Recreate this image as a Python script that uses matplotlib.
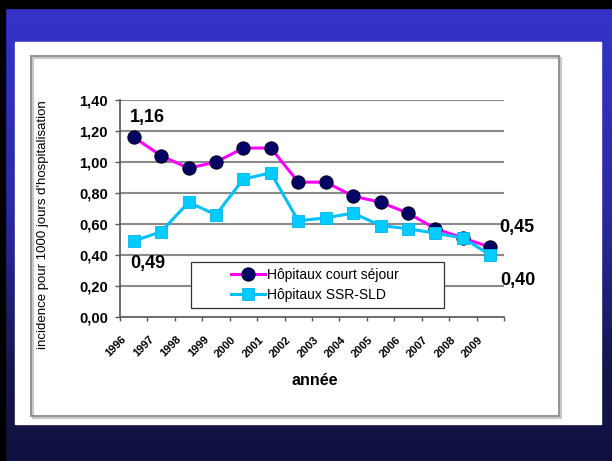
import matplotlib

matplotlib.use("Agg")

import matplotlib.pyplot as plt  # noqa: E402
import numpy as np  # noqa: E402
from matplotlib.colors import LinearSegmentedColormap  # noqa: E402
from matplotlib.patches import Rectangle  # noqa: E402
from matplotlib.transforms import ScaledTranslation  # noqa: E402

plt.rcParams["font.family"] = ["Liberation Sans", "DejaVu Sans"]

# data
years = [str(y) for y in range(1996, 2010)]
court_sejour = [1.16, 1.04, 0.96, 1.00, 1.09, 1.09, 0.87, 0.87, 0.78, 0.74, 0.67, 0.57, 0.51, 0.45]
ssr_sld = [0.49, 0.55, 0.74, 0.66, 0.89, 0.93, 0.62, 0.64, 0.67, 0.59, 0.57, 0.54, 0.51, 0.40]
series_names = ["Hôpitaux court séjour", "Hôpitaux SSR-SLD"]
y_ticks = [0.0, 0.2, 0.4, 0.6, 0.8, 1.0, 1.2, 1.4]

W, H = 612, 461


def fmt(v):
    return f"{v:.2f}".replace(".", ",")


fig = plt.figure(figsize=(W / 100, H / 100), dpi=100)

# slide background: blue gradient, black edge, white panel, chart box
bg = fig.add_axes((0, 0, 1, 1))
bg.set_xlim(0, W)
bg.set_ylim(H, 0)
bg.axis("off")
cmap = LinearSegmentedColormap.from_list(
    "slide", [(0.0, "#3434cc"), (0.45, "#2a2aa6"), (0.8, "#15154e"), (1.0, "#101040")])
bg.imshow(np.linspace(0, 1, 256).reshape(-1, 1), extent=(5, W, H, 8), cmap=cmap,
          aspect="auto", zorder=0)
bg.add_patch(Rectangle((0, 0), W, 8, color="black", zorder=1))
bg.add_patch(Rectangle((0, 0), 5, H, color="black", zorder=1))
bg.add_patch(Rectangle((15, 42), 586, 382, color="white", zorder=2))
bg.add_patch(Rectangle((33, 58), 528, 360, fill=False, ec="#c8c8c8", lw=1.5, zorder=3))
bg.add_patch(Rectangle((31, 56), 528, 360, fill=False, ec="#808080", lw=1.2, zorder=4))

ax = fig.add_axes((120 / W, 1 - 317 / H, 384 / W, 217 / H))
ax.patch.set_alpha(0)
x = np.arange(len(years))

ax.plot(x, court_sejour, "-o", color="#ff00ff", lw=2.2, mfc="#000066", mec="#000022",
        mew=0.8, ms=9.5, label=series_names[0], zorder=4)
ax.plot(x, ssr_sld, "-s", color="#00c0f8", lw=2.2, mfc="#00ccff", mec="#00b4ee",
        mew=0.6, ms=9, label=series_names[1], zorder=5)

ax.set_xlim(-0.5, len(years) - 0.5)
ax.set_ylim(0, 1.4)
ax.set_yticks(y_ticks)
ax.set_yticklabels([fmt(v) for v in y_ticks], fontsize=10.5, fontweight="bold")
ax.tick_params(axis="y", length=3.6, width=1, pad=5, color="#555555")
for v in y_ticks[1:]:
    ax.axhline(v, color="#8a8a8a", lw=1.5, zorder=1)

ax.set_xticks(np.arange(len(years) + 1) - 0.5)
ax.set_xticklabels([])
ax.tick_params(axis="x", which="major", length=3, width=1, color="#555555")
ax.set_xticks(x, minor=True)
ax.set_xticklabels(years, minor=True, fontsize=8, fontweight="bold", rotation=45,
                   ha="right", va="center", rotation_mode="anchor")
ax.tick_params(axis="x", which="minor", length=0, pad=15)
shift = ScaledTranslation(-0.09, 0, fig.dpi_scale_trans)
for lab in ax.get_xticklabels(minor=True):
    lab.set_transform(lab.get_transform() + shift)

for side in ("top", "right"):
    ax.spines[side].set_visible(False)
for side in ("left", "bottom"):
    ax.spines[side].set_color("#555555")
    ax.spines[side].set_linewidth(1.2)

ax.set_xlabel("année", fontsize=11.5, fontweight="bold")
ax.xaxis.set_label_coords(0.508, -0.26)
ax.set_ylabel("incidence pour 1000 jours d'hospitalisation", fontsize=9.5)
ax.yaxis.set_label_coords(-0.185, 0.424)

# value call-outs
for xi, yi, dx, dy in [(0, court_sejour[0], 10, 14), (0, ssr_sld[0], 10, -16.5),
                       (13, court_sejour[-1], 19, 14), (13, ssr_sld[-1], 20, -18.5)]:
    ax.annotate(fmt(yi), (x[xi], yi), xytext=(dx, dy), textcoords="offset points",
                ha="center", va="center", fontsize=13, fontweight="bold")

# legend with its own frame
ax.add_patch(Rectangle((0.185, 0.041), 0.659, 0.212, transform=ax.transAxes,
                       fc="white", ec="#333333", lw=0.9, zorder=3))
ax.legend(loc="center left", bbox_to_anchor=(0.29, 0.147), frameon=False,
          borderpad=0, borderaxespad=0, fontsize=10, handlelength=2.4,
          handletextpad=0.2, labelspacing=0.45)

fig.savefig("out.png", dpi=100)
